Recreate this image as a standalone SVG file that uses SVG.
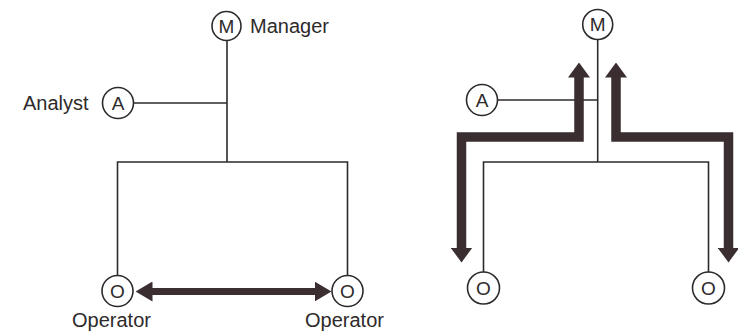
<svg xmlns="http://www.w3.org/2000/svg" width="738" height="333" viewBox="0 0 738 333">
  <defs>
    <style>
      .bg { fill: #ffffff; }
      .line { fill: none; stroke: #2e2a2b; stroke-width: 1.6; }
      .node circle { fill: #ffffff; stroke: #2e2a2b; stroke-width: 1.6; }
      .letter { font-family: "Liberation Sans", Arial, sans-serif; font-size: 19px; fill: #2e2a2b; text-anchor: middle; }
      .label { font-family: "Liberation Sans", Arial, sans-serif; font-size: 20px; fill: #2e2a2b; }
      .flow { fill: none; stroke: #3a2e31; stroke-width: 9.5; stroke-linejoin: miter; }
      .flow2 { fill: none; stroke: #3a2e31; stroke-width: 7; }
    </style>
    <marker id="bigHead" markerUnits="userSpaceOnUse" viewBox="0 0 15 22" refX="0.5" refY="11" markerWidth="15" markerHeight="22" orient="auto-start-reverse">
      <path d="M0,0 L15,11 L0,22 z" fill="#3a2e31"/>
    </marker>
    <marker id="midHead" markerUnits="userSpaceOnUse" viewBox="0 0 17 20" refX="0.5" refY="10" markerWidth="17" markerHeight="20" orient="auto-start-reverse">
      <path d="M0,0 L17,10 L0,20 z" fill="#3a2e31"/>
    </marker>
  </defs>
  <rect class="bg" x="0" y="0" width="738" height="333"/>

  <g id="connectors">
    <!-- left diagram -->
    <path class="line" d="M227,40.5 V162"/>
    <path class="line" d="M133.5,103 H227"/>
    <path class="line" d="M117.5,275.5 V162 H347.5 V275.5"/>
    <path class="flow2" d="M152,291.5 H315" marker-start="url(#midHead)" marker-end="url(#midHead)"/>
    <!-- right diagram -->
    <path class="line" d="M597.7,39.5 V162"/>
    <path class="line" d="M497,100 H597.7"/>
    <path class="line" d="M483.5,272 V162 H708.5 V272"/>
    <path class="flow" d="M579,77 V137 H461.5 V248" marker-start="url(#bigHead)" marker-end="url(#bigHead)"/>
    <path class="flow" d="M616,77 V137 H728.5 V248" marker-start="url(#bigHead)" marker-end="url(#bigHead)"/>
  </g>

  <!-- left diagram nodes -->
  <g id="manager-left" class="node">
    <circle cx="226.5" cy="26" r="14.5"/>
    <text class="letter" x="226.5" y="32.8">M</text>
    <text class="label" x="250" y="32.5">Manager</text>
  </g>
  <g id="analyst-left" class="node">
    <circle cx="118" cy="103" r="15.5"/>
    <text class="letter" x="118" y="109.8">A</text>
    <text class="label" x="23" y="109.5">Analyst</text>
  </g>
  <g id="operator-left-1" class="node">
    <circle cx="117.5" cy="291" r="15.5"/>
    <text class="letter" x="117.5" y="297.8">O</text>
    <text class="label" x="72" y="327">Operator</text>
  </g>
  <g id="operator-left-2" class="node">
    <circle cx="347.5" cy="291" r="15.5"/>
    <text class="letter" x="347.5" y="297.8">O</text>
    <text class="label" x="305" y="327">Operator</text>
  </g>

  <!-- right diagram nodes -->
  <g id="manager-right" class="node">
    <circle cx="597.7" cy="24.5" r="15"/>
    <text class="letter" x="597.7" y="31.3">M</text>
  </g>
  <g id="analyst-right" class="node">
    <circle cx="482" cy="100" r="15.5"/>
    <text class="letter" x="482" y="106.8">A</text>
  </g>
  <g id="operator-right-1" class="node">
    <circle cx="483.5" cy="288" r="16"/>
    <text class="letter" x="483.5" y="294.8">O</text>
  </g>
  <g id="operator-right-2" class="node">
    <circle cx="708.5" cy="288" r="16"/>
    <text class="letter" x="708.5" y="294.8">O</text>
  </g>
</svg>
